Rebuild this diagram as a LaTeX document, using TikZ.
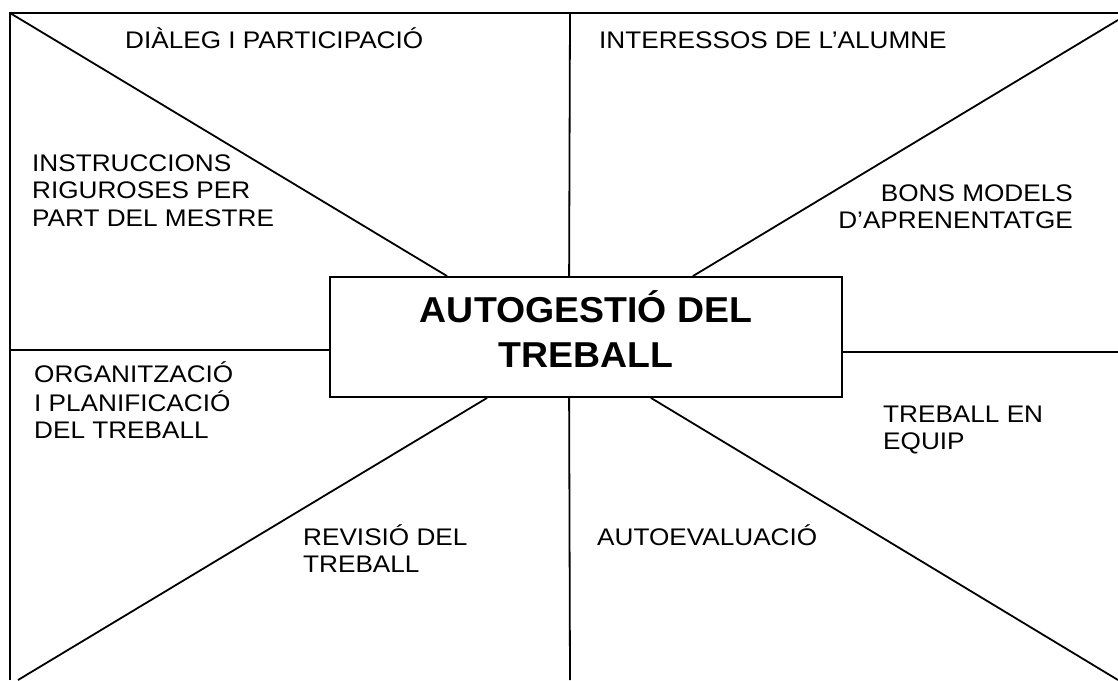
\documentclass[tikz,border=0pt]{standalone}
\usepackage{fontspec}
\setmainfont{Liberation Sans}
\newfontfamily\labfont[FakeStretch=1.09]{Liberation Sans}
\newfontfamily\titlefont[FakeStretch=1.04]{Liberation Sans Bold}
\newcommand{\mlines}[2]{\begin{tabular}[t]{@{}#1@{}}#2\end{tabular}}
\begin{document}
\begin{tikzpicture}[x=1pt,y=-1pt,
  ln/.style={line width=1.8pt},
  lab/.style={inner sep=0pt, font=\labfont\fontsize{24}{27.5}\selectfont}]
\useasboundingbox (0,0) rectangle (1118,680);
% frame coordinates
\coordinate (tl) at (10,13);
\coordinate (tr) at (1118,13);
\coordinate (bl) at (10,680);
\coordinate (trd) at (1118,20);
\coordinate (bld) at (18,680);
\coordinate (brd) at (1118,680);
\coordinate (tm) at (570,13);
\coordinate (bm) at (570,680);
\coordinate (lm) at (10,350);
\coordinate (rm) at (1118,352);
% central box
\node[draw, ln, minimum width=512pt, minimum height=120pt, inner sep=0pt] (box) at (586,337) {};
\node[inner sep=0pt, font=\titlefont\fontsize{36}{45}\selectfont, anchor=base] (title) at (586,322) {\mlines{c}{AUTOGESTIÓ DEL\\TREBALL}};
% frame
\draw[ln] (bl) -- (tl) -- (tr);
% connectors
\draw[ln] (tl) -- ([xshift=118pt]box.north west);
\draw[ln] (trd) -- ([xshift=-150pt]box.north east);
\draw[ln] (bld) -- ([xshift=158pt]box.south west);
\draw[ln] (brd) -- ([xshift=-192pt]box.south east);
\draw[ln] (tm) -- ([xshift=240pt]box.north west);
\draw[ln] (bm) -- ([xshift=240pt]box.south west);
\draw[ln] (lm) -- ([yshift=-13pt]box.west);
\draw[ln] (rm) -- ([yshift=-15pt]box.east);
% labels
\node[lab, anchor=base west] (dial) at (125,48) {DIÀLEG I PARTICIPACIÓ};
\node[lab, anchor=base west] (inte) at (599,48) {INTERESSOS DE L’ALUMNE};
\node[lab, anchor=base west] (inst) at (32,171) {\mlines{l}{INSTRUCCIONS\\RIGUROSES PER\\PART DEL MESTRE}};
\node[lab, anchor=base east] (bons) at (1073,201) {\mlines{r}{BONS MODELS\\D’APRENENTATGE}};
\node[lab, anchor=base west] (orga) at (34,382) {\mlines{l}{ORGANITZACIÓ\\I PLANIFICACIÓ\\DEL TREBALL}};
\node[lab, anchor=base west] (equi) at (883,422) {\mlines{l}{TREBALL EN\\EQUIP}};
\node[lab, anchor=base west] (revi) at (303,545) {\mlines{l}{REVISIÓ DEL\\TREBALL}};
\node[lab, anchor=base west] (auto) at (597,545) {AUTOEVALUACIÓ};
\end{tikzpicture}
\end{document}
